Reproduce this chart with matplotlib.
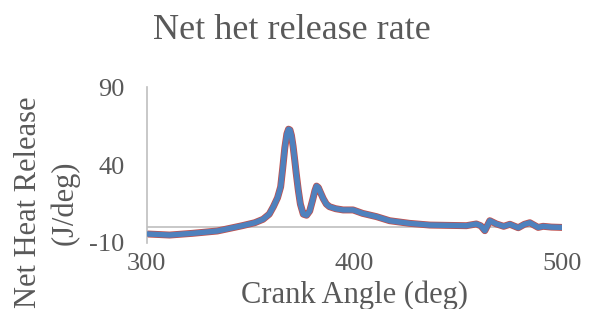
import matplotlib.pyplot as plt

# crank angle (deg) and net heat release (J/deg)
crank_angle = [300, 311, 322, 334, 340, 346, 352, 356, 359, 361, 363, 364.5, 365.5, 366.5,
               367.5, 368.3, 369, 369.7, 370.5, 371.3, 372, 373, 374, 375.4, 377, 378.5,
               380, 381, 381.8, 382.7, 383.5, 385, 386.5, 388, 391, 394.6, 399.4, 404,
               410.7, 417, 426.6, 436.4, 454, 458.8, 461, 462.9, 465.3, 468.5, 472, 475,
               479, 482, 484.6, 488.6, 491, 495, 500]
heat_release = [-4.2, -4.9, -3.8, -2.3, -0.6, 1.1, 3.0, 5.2, 8.5, 13.3, 19, 26, 38, 51,
                60, 63, 62.5, 59, 52, 43, 34.7, 24, 15, 8.5, 7.8, 10.5, 18, 23.5, 26.5,
                25.5, 23, 18.5, 15, 13.3, 12, 11.2, 11.2, 9, 6.9, 4.3, 2.6, 1.5, 1.1,
                2.2, 1.0, -2.1, 4.3, 2.2, 0.7, 2.0, -0.2, 2.0, 3.0, 0.0, 0.7, 0.2, 0.0]

plt.rcParams['font.family'] = ['Liberation Serif', 'DejaVu Serif']
plt.rcParams['axes.unicode_minus'] = False
grey_text = '#595959'

fig = plt.figure(figsize=(5.92, 3.09), dpi=100)
ax = fig.add_axes([0.248, 0.2136, 0.701, 0.5046])

ax.axhline(0, color='#BFBFBF', lw=1.2, zorder=1)
ax.plot(crank_angle, heat_release, color='#C0504D', lw=5.0, solid_capstyle='round',
        solid_joinstyle='round', zorder=2)
ax.plot(crank_angle, heat_release, color='#4F81BD', lw=3.9, solid_capstyle='round',
        solid_joinstyle='round', zorder=3)

ax.set_xlim(300, 500)
ax.set_ylim(-10, 90)
ax.set_xticks([300, 400, 500])
ax.set_yticks([-10, 40, 90])

for s in ['top', 'right', 'bottom']:
    ax.spines[s].set_visible(False)
ax.spines['left'].set_color('#BFBFBF')
ax.spines['left'].set_linewidth(1.2)

ax.tick_params(axis='both', length=0, labelsize=19, labelcolor=grey_text)
ax.tick_params(axis='y', pad=16)
ax.tick_params(axis='x', pad=7)

fig.text(0.493, 0.9, 'Net het release rate', fontsize=26, color=grey_text,
         ha='center', va='center')
ax.set_xlabel('Crank Angle (deg)', fontsize=22, color=grey_text)
ax.xaxis.set_label_coords(0.5, -0.335)
ax.xaxis.label.set_va('center')
ax.set_ylabel('Net Heat Release\n(J/deg)', fontsize=22, color=grey_text,
              linespacing=1.3)
ax.yaxis.set_label_coords(-0.241, 0.26)
ax.yaxis.label.set_va('center')

fig.savefig('out.png', dpi=100)
